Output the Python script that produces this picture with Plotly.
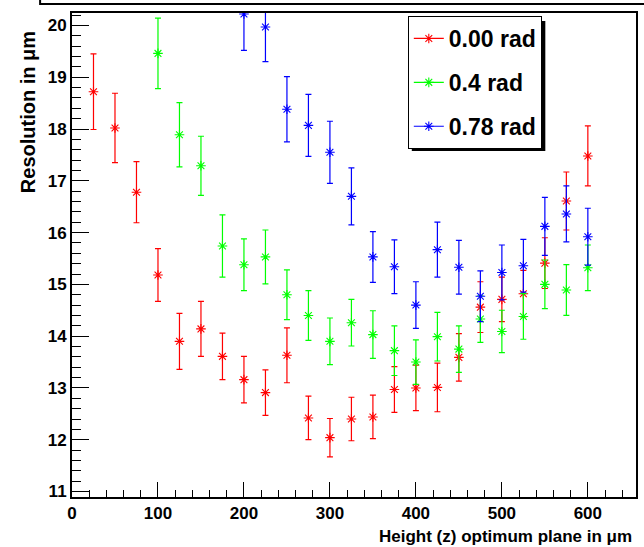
import plotly.graph_objects as go

# ---------------- data ----------------
x_red = [25, 50, 75, 100, 125, 150, 175, 200, 225, 250, 275, 300, 325, 350,
         375, 400, 425, 450, 475, 500, 525, 550, 575, 600]
y_red = [18.72, 18.02, 16.78, 15.18, 13.90, 14.14, 13.61, 13.16, 12.91, 13.63,
         12.42, 12.04, 12.40, 12.44, 12.97, 13.00, 13.01, 13.59, 14.56, 14.71,
         14.82, 15.41, 16.61, 17.48]
e_red = [0.73, 0.67, 0.59, 0.51, 0.54, 0.53, 0.45, 0.45, 0.44, 0.53, 0.42, 0.37,
         0.42, 0.42, 0.44, 0.44, 0.47, 0.46, 0.49, 0.43, 0.45, 0.49, 0.56, 0.58]

x_green = [100, 125, 150, 175, 200, 225, 250, 275, 300, 325, 350, 375, 400,
           425, 450, 475, 500, 525, 550, 575, 600]
y_green = [19.46, 17.89, 17.29, 15.74, 15.38, 15.53, 14.80, 14.40, 13.90, 14.26,
           14.03, 13.72, 13.50, 13.99, 13.75, 14.33, 14.09, 14.38, 15.00, 14.89,
           15.32]
e_green = [0.68, 0.62, 0.57, 0.60, 0.50, 0.52, 0.48, 0.48, 0.45, 0.45, 0.46,
           0.48, 0.43, 0.47, 0.45, 0.45, 0.41, 0.44, 0.47, 0.49, 0.44]

x_blue = [200, 225, 250, 275, 300, 325, 350, 375, 400, 425, 450, 475, 500,
          525, 550, 575, 600]
y_blue = [20.22, 19.97, 18.38, 18.07, 17.55, 16.70, 15.53, 15.34, 14.60, 15.67,
          15.33, 14.77, 15.23, 15.36, 16.12, 16.36, 15.92]
e_blue = [0.70, 0.67, 0.63, 0.60, 0.60, 0.55, 0.49, 0.52, 0.45, 0.53, 0.52,
          0.49, 0.53, 0.51, 0.56, 0.54, 0.55]

series_names = ["0.00 rad", "0.4 rad", "0.78 rad"]
series_colors = ["#ff0000", "#00ff00", "#0000ff"]

x_tick_vals = [0, 100, 200, 300, 400, 500, 600]
y_tick_vals = [11, 12, 13, 14, 15, 16, 17, 18, 19, 20]
x_title = "Height (z) optimum plane in μm"
y_title = "Resolution in μm"

# ---------------- layout helpers ----------------
W, H = 644, 547
L, R, T, B = 72, 6, 13, 50
PW, PH = W - L - R, H - T - B


def px_x(p):
    return (p - L) / PW


def px_y(p):
    return (H - B - p) / PH


FONT = "Liberation Sans, Arial, Helvetica, sans-serif"

fig = go.Figure()

data = [(x_red, y_red, e_red), (x_green, y_green, e_green), (x_blue, y_blue, e_blue)]
for (xs, ys, es), name, col in zip(data, series_names, series_colors):
    fig.add_trace(go.Scatter(
        x=xs, y=ys, mode="markers", showlegend=False, name=name,
        marker=dict(symbol="asterisk-open", size=8, color=col,
                    line=dict(color=col, width=1.1)),
        error_y=dict(type="data", array=es, visible=True, color=col,
                     thickness=1.2, width=3),
    ))

# legend entries (line + marker) like ROOT
for i, (name, col) in enumerate(zip(series_names, series_colors)):
    fig.add_trace(go.Scatter(
        x=[None], y=[None], mode="lines+markers", name=name,
        legendgroup=f"g{i}",
        line=dict(color=col, width=1.2),
        marker=dict(symbol="asterisk-open", size=8, color=col,
                    line=dict(color=col, width=1.1)),
    ))

tickfont = dict(family=FONT, size=17, color="black", weight="bold")

fig.update_xaxes(
    range=[0, 656], tickvals=x_tick_vals, ticks="inside", ticklen=15,
    tickwidth=1, tickcolor="black", showline=True, linecolor="black",
    linewidth=2, mirror=True, showgrid=False, zeroline=False,
    tickfont=tickfont,
    minor=dict(dtick=20, tick0=0, ticks="inside", ticklen=7, tickcolor="black",
               tickwidth=1, showgrid=False),
)
fig.update_yaxes(
    range=[10.894, 20.24], tickvals=y_tick_vals, ticks="inside", ticklen=17,
    tickwidth=1, tickcolor="black", showline=True, linecolor="black",
    linewidth=2, mirror=True, showgrid=False, zeroline=False,
    tickfont=tickfont,
    minor=dict(dtick=0.2, tick0=11, ticks="inside", ticklen=9, tickcolor="black",
               tickwidth=1, showgrid=False),
)

shapes = [
    # legend shadow
    dict(type="rect", xref="paper", yref="paper",
         x0=px_x(413), x1=px_x(547), y0=px_y(151), y1=px_y(21),
         fillcolor="black", line=dict(width=0), layer="above"),
    # cut-off title box at the very top
    dict(type="rect", xref="paper", yref="paper",
         x0=px_x(40), x1=px_x(700), y0=px_y(4), y1=px_y(-30),
         fillcolor="rgba(0,0,0,0)", line=dict(color="black", width=2)),
]

annotations = [
    dict(text=y_title, xref="paper", yref="paper", x=px_x(28), y=px_y(112),
         xanchor="center", yanchor="middle", textangle=-90, showarrow=False,
         font=dict(family=FONT, size=20, color="black", weight="bold")),
    dict(text=x_title, xref="paper", yref="paper", x=px_x(636), y=px_y(536),
         xanchor="right", yanchor="middle", showarrow=False,
         font=dict(family=FONT, size=17, color="black", weight="bold")),
]

fig.update_layout(
    width=W, height=H, autosize=False,
    margin=dict(l=L, r=R, t=T, b=B),
    paper_bgcolor="white", plot_bgcolor="white",
    shapes=shapes, annotations=annotations,
    legend=dict(x=px_x(409), y=px_y(16), xanchor="left", yanchor="top",
                bgcolor="white", bordercolor="black", borderwidth=1,
                font=dict(family=FONT, size=23, color="black", weight="bold"),
                tracegroupgap=11, itemwidth=30),
    showlegend=True,
)

fig.write_html("out.html", config={"displayModeBar": False},
               post_script="document.body.style.margin='0';document.body.style.overflow='hidden';")
